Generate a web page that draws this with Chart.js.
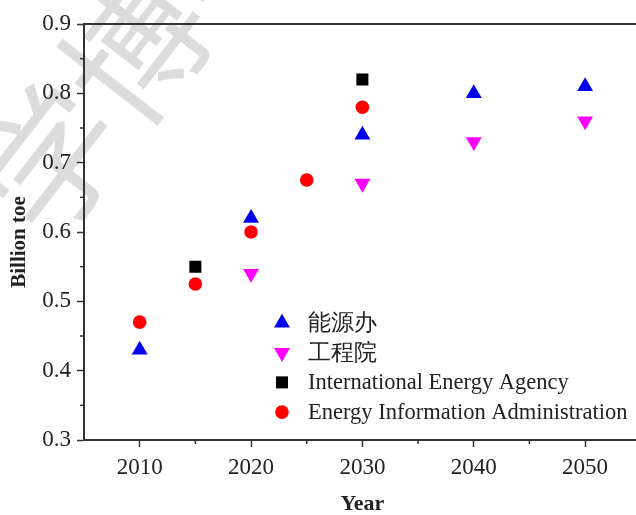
<!DOCTYPE html>
<html>
<head>
<meta charset="utf-8">
<script src="https://cdn.jsdelivr.net/npm/chart.js@4.4.1/dist/chart.umd.min.js"></script>
<style>
  html, body { margin: 0; padding: 0; background: #fff; overflow: hidden; }
  #wrap { width: 650px; height: 515px; }
</style>
</head>
<body>
<div id="wrap"><canvas id="energyChart" width="650" height="515"></canvas></div>
<script>
// series names (legend order)
const seriesNames = ['能源办', '工程院', 'International Energy Agency', 'Energy Information Administration'];

// 能源办
const nengYears = [2010, 2020, 2030, 2040, 2050];
const nengValues = [0.43, 0.62, 0.74, 0.80, 0.81];
// 工程院
const gongYears = [2020, 2030, 2040, 2050];
const gongValues = [0.54, 0.67, 0.73, 0.76];
// International Energy Agency
const ieaYears = [2015, 2030];
const ieaValues = [0.55, 0.82];
// Energy Information Administration
const eiaYears = [2010, 2015, 2020, 2025, 2030];
const eiaValues = [0.47, 0.525, 0.60, 0.675, 0.78];

// tick labels
const xTickLabels = [2010, 2020, 2030, 2040, 2050];
const yTickLabels = [0.3, 0.4, 0.5, 0.6, 0.7, 0.8, 0.9];

const toPoints = (xs, ys) => xs.map((x, i) => ({ x: x, y: ys[i] }));
const serif = "'Liberation Serif', 'Times New Roman', serif";
const axisColor = '#333';

// watermark, minor ticks, top frame line, y title and legend
const extras = {
  id: 'extras',
  beforeDraw(chart) {
    const ctx = chart.ctx;
    ctx.save();
    ctx.fillStyle = '#dcdcdc';
    ctx.font = "140px 'Noto Sans CJK SC'";
    ctx.textBaseline = 'middle';
    ctx.translate(7, 215);
    ctx.rotate(-0.91);
    ctx.fillText('学博学', 0, 0);
    ctx.restore();
  },
  afterDraw(chart) {
    const ctx = chart.ctx;
    const area = chart.chartArea;
    const xs = chart.scales.x, ys = chart.scales.y;
    ctx.save();
    ctx.strokeStyle = axisColor;
    ctx.lineWidth = 2;
    // top frame
    ctx.beginPath();
    ctx.moveTo(area.left, area.top);
    ctx.lineTo(area.right, area.top);
    ctx.stroke();
    // minor ticks
    ctx.lineWidth = 1.5;
    for (let v = 2015; v < 2055; v += 10) {
      const px = xs.getPixelForValue(v);
      ctx.beginPath();
      ctx.moveTo(px, area.bottom);
      ctx.lineTo(px, area.bottom + 4);
      ctx.stroke();
    }
    for (let k = 35; k < 90; k += 10) {
      const py = ys.getPixelForValue(k / 100);
      ctx.beginPath();
      ctx.moveTo(area.left, py);
      ctx.lineTo(area.left - 4, py);
      ctx.stroke();
    }
    // y title
    ctx.save();
    ctx.fillStyle = '#222';
    ctx.font = 'bold 21px ' + serif;
    ctx.textAlign = 'center';
    ctx.textBaseline = 'middle';
    ctx.translate(20, 242);
    ctx.rotate(-Math.PI / 2);
    ctx.fillText('Billion toe', 0, 0);
    ctx.restore();
    // legend
    const lx = area.left + 198;
    const ly = area.top + 299;
    ctx.font = '22.5px ' + serif;
    ctx.textBaseline = 'middle';
    ctx.textAlign = 'left';
    chart.data.datasets.forEach((ds, i) => {
      const y = ly + i * 29.7;
      ctx.fillStyle = ds.backgroundColor;
      ctx.strokeStyle = ds.borderColor;
      Chart.helpers.drawPoint(ctx, {
        pointStyle: ds.pointStyle,
        radius: ds.pointRadius,
        rotation: ds.rotation || 0,
        borderWidth: 0
      }, lx, y);
      ctx.fillStyle = '#222';
      ctx.fillText(ds.label, lx + 26, y + 1);
    });
    ctx.restore();
  }
};

new Chart(document.getElementById('energyChart'), {
  type: 'scatter',
  data: {
    datasets: [
      {
        label: seriesNames[0],
        data: toPoints(nengYears, nengValues),
        pointStyle: 'triangle',
        pointRadius: 9.2,
        backgroundColor: '#0000ee',
        borderColor: '#0000ee',
        borderWidth: 0
      },
      {
        label: seriesNames[1],
        data: toPoints(gongYears, gongValues),
        pointStyle: 'triangle',
        rotation: 180,
        pointRadius: 9.2,
        backgroundColor: '#ff00ff',
        borderColor: '#ff00ff',
        borderWidth: 0
      },
      {
        label: seriesNames[2],
        data: toPoints(ieaYears, ieaValues),
        pointStyle: 'rect',
        pointRadius: 8.5,
        backgroundColor: '#000000',
        borderColor: '#000000',
        borderWidth: 0
      },
      {
        label: seriesNames[3],
        data: toPoints(eiaYears, eiaValues),
        pointStyle: 'circle',
        pointRadius: 6.8,
        backgroundColor: '#ff0000',
        borderColor: '#ff0000',
        borderWidth: 0
      }
    ]
  },
  options: {
    responsive: false,
    animation: false,
    events: [],
    layout: { padding: { top: 24, right: 6, left: 0, bottom: 0 } },
    plugins: {
      legend: { display: false },
      tooltip: { enabled: false }
    },
    scales: {
      x: {
        type: 'linear',
        min: 2005,
        max: 2055,
        afterFit: (s) => { s.height = 75; },
        afterBuildTicks: (s) => { s.ticks = xTickLabels.map(v => ({ value: v })); },
        border: { display: true, color: axisColor, width: 2 },
        grid: { drawOnChartArea: false, tickLength: 7, tickColor: axisColor, tickWidth: 1.5 },
        ticks: { color: '#222', padding: 7, font: { family: serif, size: 23 }, callback: (v) => String(v) },
        title: {
          display: true,
          text: 'Year',
          color: '#222',
          font: { family: serif, size: 22, weight: 'bold' },
          padding: { top: 0, bottom: -3 }
        }
      },
      y: {
        min: 0.3,
        max: 0.9,
        afterFit: (s) => { s.width = 84; },
        afterBuildTicks: (s) => { s.ticks = yTickLabels.map(v => ({ value: v })); },
        border: { display: true, color: axisColor, width: 2 },
        grid: { drawOnChartArea: false, tickLength: 7, tickColor: axisColor, tickWidth: 1.5 },
        ticks: { color: '#222', padding: 6, font: { family: serif, size: 23 }, callback: (v) => v.toFixed(1) },
        title: { display: false }
      }
    }
  },
  plugins: [extras]
});
</script>
</body>
</html>
